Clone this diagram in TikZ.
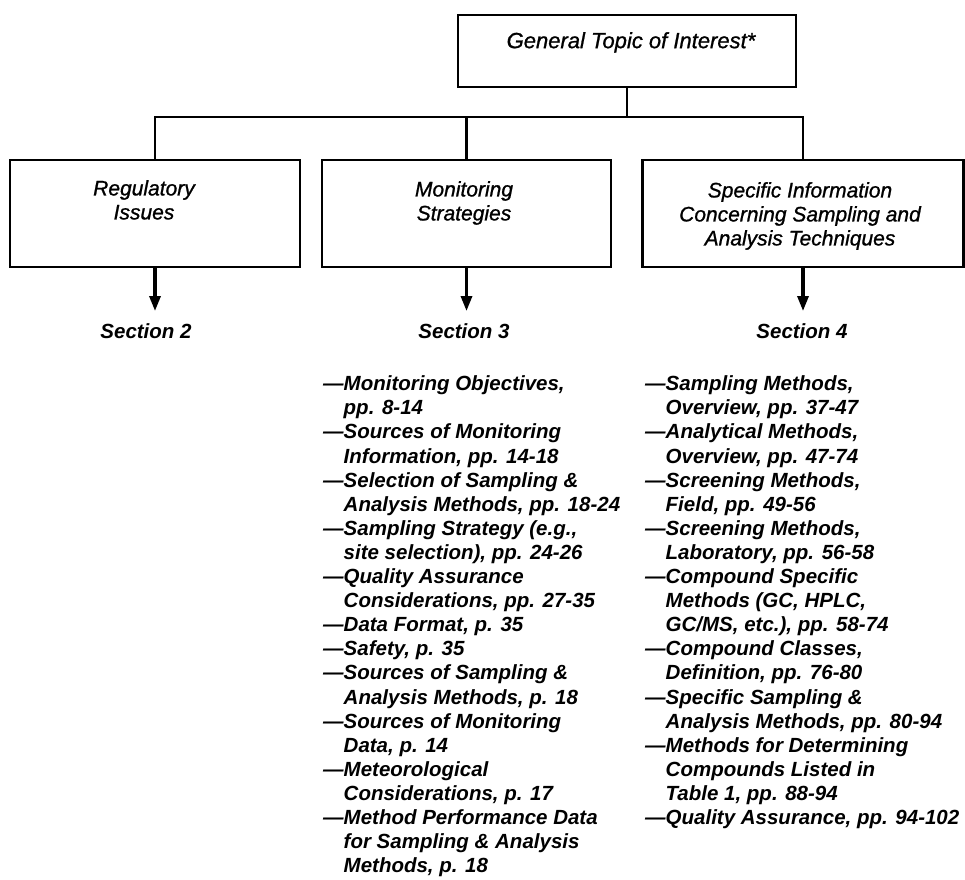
\documentclass[tikz,border=0pt]{standalone}
\usepackage{fontspec}
\setmainfont{Liberation Sans}
\newfontfamily\boxfont{Liberation Sans}[FakeBold=1.0]
\usetikzlibrary{arrows.meta}
\newcommand{\fl}[1]{\rule{0pt}{#1}}
\newcommand{\ind}{\phantom{—}}
\begin{document}
\begin{tikzpicture}[x=1pt,y=-1pt,
  frame/.style={draw, line width=2.8pt, inner sep=0pt, line join=miter},
  boxtext/.style={inner sep=0pt, align=center, anchor=north,
    font=\boxfont\fontsize{21}{24}\selectfont\itshape},
  listtext/.style={inner sep=0pt, align=left, anchor=north west,
    font=\fontsize{20.5}{24.1}\selectfont\bfseries\itshape},
  seclabel/.style={inner sep=0pt, font=\fontsize{20.5}{24.1}\selectfont\bfseries\itshape},
  link/.style={line width=2.8pt, line join=miter},
  arr/.style={line width=3.2pt, -{Triangle[length=15pt,width=11pt]}}]
\useasboundingbox (0,0) rectangle (965,879);

% boxes
\node[frame, minimum width=338pt, minimum height=72pt] (top) at (627,51) {};
\node[frame, minimum width=290pt, minimum height=107pt] (b1) at (155,213.5) {};
\node[frame, minimum width=289pt, minimum height=107pt] (b2) at (466.5,213.5) {};
\node[frame, minimum width=321pt, minimum height=107pt] (b3) at (803,213.5) {};

% box texts
\node[boxtext, font=\boxfont\fontsize{22}{24}\selectfont\itshape] (t0) at (631,32) {\fl{15.5pt}General Topic of Interest*};
\node[boxtext] (t1) at (144,180) {\fl{15pt}Regulatory\\Issues};
\node[boxtext] (t2) at (464,181) {\fl{15pt}Monitoring\\Strategies};
\node[boxtext] (t3) at (800,182) {\fl{15pt}Specific Information\\Concerning Sampling and\\Analysis Techniques};

% connectors
\coordinate (hub) at (626,117);
\draw[link] (top.south) -- (top.south |- hub);
\draw[link] (b1.north) -- (b1.north |- hub) -- (b3.north |- hub) -- (b3.north);
\draw[link] (b2.north) -- (b2.north |- hub);

% arrows
\coordinate (e1) at (155,311);
\coordinate (e2) at (466.5,311);
\coordinate (e3) at (803,311);
\draw[arr] (b1.south) -- (e1);
\draw[arr] (b2.south) -- (e2);
\draw[arr] (b3.south) -- (e3);

% section labels
\node[seclabel] (s2) at (146,331) {Section 2};
\node[seclabel] (s3) at (464,331) {Section 3};
\node[seclabel] (s4) at (802,331) {Section 4};

% lists
\node[listtext] (l3) at (323,375) {\fl{15.5pt}—Monitoring Objectives,\\
\ind pp. 8-14\\
—Sources of Monitoring\\
\ind Information, pp. 14-18\\
—Selection of Sampling \&\\
\ind Analysis Methods, pp. 18-24\\
—Sampling Strategy  (e.g.,\\
\ind site selection), pp. 24-26\\
—Quality Assurance\\
\ind Considerations, pp. 27-35\\
—Data Format, p. 35\\
—Safety, p. 35\\
—Sources of Sampling \&\\
\ind Analysis Methods, p. 18\\
—Sources of Monitoring\\
\ind Data, p. 14\\
—Meteorological\\
\ind Considerations, p. 17\\
—Method Performance Data\\
\ind for Sampling \& Analysis\\
\ind Methods, p. 18};

\node[listtext] (l4) at (645,375) {\fl{15.5pt}—Sampling Methods,\\
\ind Overview, pp. 37-47\\
—Analytical Methods,\\
\ind Overview, pp. 47-74\\
—Screening Methods,\\
\ind Field, pp. 49-56\\
—Screening Methods,\\
\ind Laboratory, pp. 56-58\\
—Compound Specific\\
\ind Methods (GC, HPLC,\\
\ind GC/MS, etc.), pp. 58-74\\
—Compound Classes,\\
\ind Definition, pp. 76-80\\
—Specific Sampling \&\\
\ind Analysis Methods, pp. 80-94\\
—Methods for Determining\\
\ind Compounds Listed in\\
\ind Table 1, pp. 88-94\\
—Quality Assurance, pp. 94-102};
\end{tikzpicture}
\end{document}
